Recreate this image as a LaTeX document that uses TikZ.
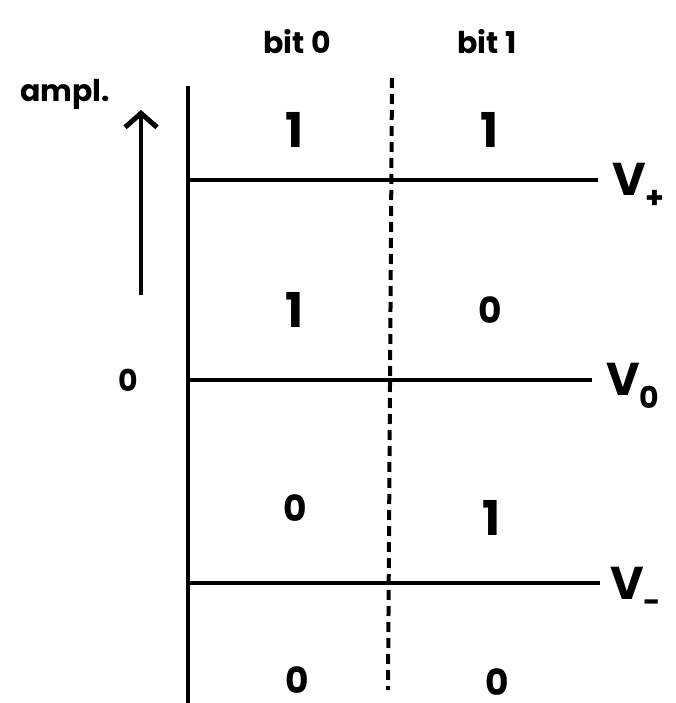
\documentclass[tikz,border=0pt]{standalone}
\usepackage{fontspec}
\setmainfont{Poppins}
\usetikzlibrary{arrows.meta}
\newcommand{\sbx}[1]{\raisebox{-0.28em}{\fontsize{30}{30}\selectfont #1}}
\begin{document}
\begin{tikzpicture}[x=1pt,y=-1pt,
  lbl/.style={inner sep=0pt,font=\fontsize{30}{30}\selectfont\bfseries},
  digit/.style={inner sep=0pt,font=\fontsize{48}{48}\selectfont\bfseries},
  zdigit/.style={inner sep=0pt,font=\fontsize{36}{36}\selectfont\bfseries},
  vlbl/.style={inner sep=0pt,anchor=west,font=\fontsize{46}{46}\selectfont\bfseries},
  rule/.style={line width=3.5pt},
  divider/.style={line width=4pt,dash pattern=on 10pt off 6pt}]
\useasboundingbox[fill=white] (0,0) rectangle (676,703);
% axis
\coordinate (axtop) at (188,86);
\coordinate (axbot) at (188,703);
\draw[rule] (axtop) -- (axbot);
% levels
\coordinate (p1) at (188,180);
\coordinate (p0) at (188,380);
\coordinate (m1) at (188,583);
\coordinate (p1e) at (598,180);
\coordinate (p0e) at (592,380);
\coordinate (m1e) at (600,583);
\draw[rule] (p1) -- (p1e);
\draw[rule] (p0) -- (p0e);
\draw[rule] (m1) -- (m1e);
\node[vlbl] (vp) at (612,186) {V\sbx{+}};
\node[vlbl] (vz) at (606,386) {V\sbx{0}};
\node[vlbl] (vm) at (610,590) {V\sbx{-}};
% divider
\coordinate (dtop) at (392,78);
\coordinate (dbot) at (388,690);
\draw[divider] (dtop) -- (dbot);
% arrow
\coordinate (ab) at (141,295);
\coordinate (at) at (141,110);
\draw[line width=3.5pt,-{Straight Barb[length=14pt,width=32pt,line width=5pt]}] (ab) -- (at);
% labels
\node[lbl] (ampl) at (65,94) {ampl.};
\node[lbl] (b0) at (297,42) {bit 0};
\node[lbl] (b1) at (487,42) {bit 1};
\node[lbl] (zero) at (128,380) {0};
% cells
\node[digit] (c11) at (295,130) {1};
\node[digit] (c12) at (490,130) {1};
\node[digit] (c21) at (295,310) {1};
\node[zdigit] (c22) at (490,310) {0};
\node[zdigit] (c31) at (295,508) {0};
\node[digit] (c32) at (492,518) {1};
\node[zdigit] (c41) at (297,680) {0};
\node[zdigit] (c42) at (497,682) {0};
\end{tikzpicture}
\end{document}
